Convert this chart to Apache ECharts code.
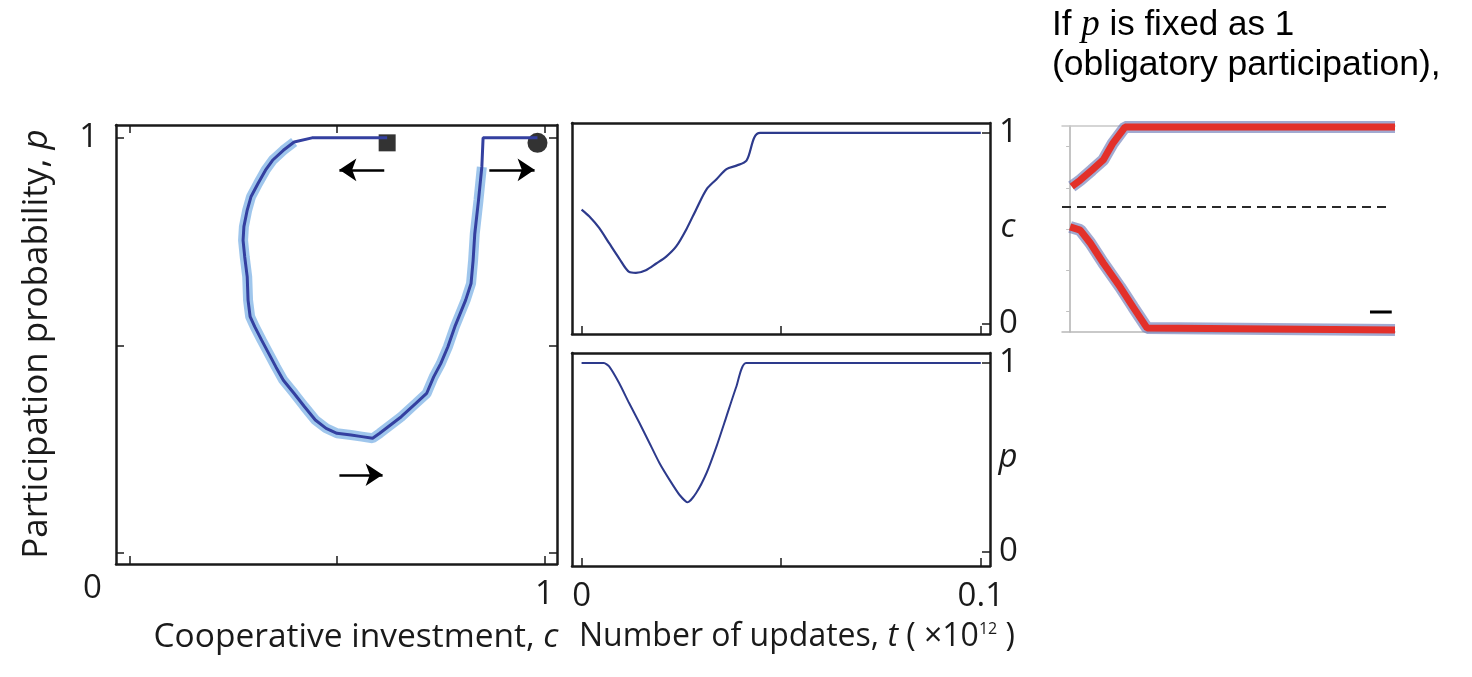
<!DOCTYPE html>
<html>
<head>
<meta charset="utf-8">
<script src="https://cdn.jsdelivr.net/npm/echarts@6/dist/echarts.min.js"></script>
<style>
  html, body { margin: 0; padding: 0; background: #fff; }
  #chart { width: 1472px; height: 677px; }
</style>
</head>
<body>
<div id="chart"></div>
<script>
// trajectory in the (c, p) plane, from the square to the circle
let pathC = [0.621, 0.44, 0.397, 0.371, 0.345, 0.328, 0.31, 0.293, 0.284, 0.276, 0.274, 0.278, 0.284, 0.286, 0.291, 0.302, 0.319, 0.336, 0.353, 0.371, 0.397, 0.422, 0.448, 0.474, 0.5, 0.534, 0.56, 0.586, 0.603, 0.629, 0.655, 0.69, 0.716, 0.733, 0.75, 0.767, 0.784, 0.81, 0.823, 0.828, 0.832, 0.841, 0.849, 0.852, 0.983];
let pathP = [1, 1, 0.99, 0.97, 0.946, 0.922, 0.89, 0.858, 0.826, 0.786, 0.753, 0.713, 0.665, 0.609, 0.569, 0.545, 0.512, 0.48, 0.448, 0.416, 0.384, 0.352, 0.32, 0.3, 0.288, 0.284, 0.28, 0.276, 0.288, 0.308, 0.328, 0.36, 0.384, 0.424, 0.456, 0.496, 0.545, 0.609, 0.649, 0.705, 0.769, 0.85, 0.93, 1, 1];

// c(t) and p(t), t in units of 10^12 updates
let tC = [0, 0.0019, 0.0044, 0.0069, 0.0094, 0.0119, 0.0136, 0.0161, 0.0187, 0.0212, 0.0237, 0.0262, 0.0287, 0.0313, 0.0338, 0.0363, 0.0388, 0.0413, 0.0447, 0.1];
let cVals = [0.599, 0.564, 0.503, 0.423, 0.344, 0.273, 0.268, 0.282, 0.317, 0.353, 0.406, 0.494, 0.6, 0.705, 0.758, 0.811, 0.829, 0.855, 1, 1];
let tP = [0, 0.0056, 0.0069, 0.0094, 0.0119, 0.0145, 0.017, 0.0195, 0.022, 0.0245, 0.0266, 0.0287, 0.0313, 0.0338, 0.0363, 0.0388, 0.0412, 0.1];
let pVals = [1, 1, 0.982, 0.894, 0.788, 0.683, 0.577, 0.471, 0.383, 0.303, 0.263, 0.312, 0.418, 0.559, 0.718, 0.877, 1, 1];

// inset (p fixed as 1), normalised time and value
let insetTopX = [0.005, 0.031, 0.067, 0.102, 0.132, 0.169, 1.0];
let insetTopY = [0.706, 0.737, 0.786, 0.835, 0.917, 0.995, 0.995];
let insetBotX = [0, 0.031, 0.062, 0.102, 0.154, 0.194, 0.237, 1.0];
let insetBotY = [0.51, 0.495, 0.432, 0.335, 0.218, 0.121, 0.019, 0.01];
let insetDivider = 0.607;

// start / end markers and arrows in the (c, p) plane
let squarePt = [0.621, 0.988];
let circlePt = [0.983, 0.988];
let arrows = [
  [[0.614, 0.923], [0.506, 0.923]],
  [[0.867, 0.923], [0.976, 0.923]],
  [[0.506, 0.188], [0.61, 0.188]]
];

let font = "Open Sans";
let black = "#1a1a1a";

function pairs(xs, ys) {
  return xs.map((x, i) => [x, ys[i]]);
}

let chart = echarts.init(document.getElementById("chart"));

let boxLine = { show: true, onZero: false, lineStyle: { color: black, width: 2.5 } };
let tickIn = function (vals) {
  return { show: true, inside: true, length: 8, customValues: vals, lineStyle: { color: black, width: 1.5 } };
};
let labelAt = function (vals, margin) {
  return {
    show: true, customValues: vals, margin: margin, fontSize: 33, fontFamily: font, color: black,
    formatter: v => String(+v.toFixed(2))
  };
};
let hidden = { show: false };

let loopPts = pairs(pathC, pathP).slice(2, pathC.length - 2);

chart.setOption({
  animation: false,
  grid: [
    { left: 116, top: 125, width: 441, height: 439 },
    { left: 572, top: 123, width: 418, height: 211 },
    { left: 572, top: 353, width: 418, height: 213 },
    { left: 1062, top: 126, width: 333, height: 206 }
  ],
  xAxis: [
    { gridIndex: 0, type: "value", min: -0.032, max: 1.03, axisLine: boxLine, axisTick: tickIn([0, 0.5, 1]), axisLabel: labelAt([1], 14), splitLine: hidden },
    { gridIndex: 0, type: "value", position: "top", min: -0.032, max: 1.03, axisLine: boxLine, axisTick: tickIn([0, 0.5, 1]), axisLabel: hidden, splitLine: hidden },
    { gridIndex: 1, type: "value", min: -0.0024, max: 0.1023, axisLine: boxLine, axisTick: tickIn([0, 0.05, 0.1]), axisLabel: hidden, splitLine: hidden },
    { gridIndex: 1, type: "value", position: "top", min: -0.0024, max: 0.1023, axisLine: boxLine, axisTick: hidden, axisLabel: hidden, splitLine: hidden },
    { gridIndex: 2, type: "value", min: -0.0024, max: 0.1023, axisLine: boxLine, axisTick: tickIn([0, 0.05, 0.1]), axisLabel: labelAt([0, 0.1], 14), splitLine: hidden },
    { gridIndex: 2, type: "value", position: "top", min: -0.0024, max: 0.1023, axisLine: boxLine, axisTick: hidden, axisLabel: hidden, splitLine: hidden },
    { gridIndex: 3, type: "value", min: -0.025, max: 1, axisLine: { show: true, onZero: false, lineStyle: { color: "#b8b8b8", width: 1.5 } }, axisTick: { show: true, inside: true, length: 4, customValues: [0.55, 0.9], lineStyle: { color: "#d0d0d0" } }, axisLabel: hidden, splitLine: hidden },
    { gridIndex: 3, type: "value", position: "top", min: -0.025, max: 1, axisLine: { show: true, onZero: false, lineStyle: { color: "#c8c8c8", width: 1.5 } }, axisTick: hidden, axisLabel: hidden, splitLine: hidden }
  ],
  yAxis: [
    { gridIndex: 0, type: "value", min: -0.027, max: 1.031, axisLine: boxLine, axisTick: tickIn([0, 0.5, 1]), axisLabel: labelAt([1], 18), splitLine: hidden },
    { gridIndex: 0, type: "value", position: "right", min: -0.027, max: 1.031, axisLine: boxLine, axisTick: tickIn([0, 0.5, 1]), axisLabel: hidden, splitLine: hidden },
    { gridIndex: 1, type: "value", min: -0.052, max: 1.052, axisLine: boxLine, axisTick: hidden, axisLabel: hidden, splitLine: hidden },
    { gridIndex: 1, type: "value", position: "right", min: -0.052, max: 1.052, axisLine: boxLine, axisTick: tickIn([0, 1]), axisLabel: labelAt([0, 1], 9), splitLine: hidden },
    { gridIndex: 2, type: "value", min: -0.074, max: 1.053, axisLine: boxLine, axisTick: hidden, axisLabel: hidden, splitLine: hidden },
    { gridIndex: 2, type: "value", position: "right", min: -0.074, max: 1.053, axisLine: boxLine, axisTick: tickIn([0, 1]), axisLabel: labelAt([0, 1], 9), splitLine: hidden },
    { gridIndex: 3, type: "value", min: 0, max: 1, axisLine: { show: true, onZero: true, lineStyle: { color: "#b0b0b0", width: 1.5 } }, axisTick: { show: true, inside: false, length: 4, customValues: [0.1, 0.3, 0.5, 0.7, 0.9], lineStyle: { color: "#c0c0c0" } }, axisLabel: hidden, splitLine: hidden }
  ],
  series: [
    // left panel: light halo, then the trajectory
    { type: "line", xAxisIndex: 0, yAxisIndex: 0, data: loopPts, showSymbol: false,
      lineStyle: { color: "#95c0ea", width: 10, opacity: 0.9 } },
    { type: "line", xAxisIndex: 0, yAxisIndex: 0, data: pairs(pathC, pathP), showSymbol: false,
      lineStyle: { color: "#3440a0", width: 3 } },
    { type: "scatter", xAxisIndex: 0, yAxisIndex: 0, data: [squarePt], symbol: "rect", symbolSize: 17,
      itemStyle: { color: "#000" } },
    { type: "scatter", xAxisIndex: 0, yAxisIndex: 0, data: [circlePt], symbol: "circle", symbolSize: 20,
      itemStyle: { color: "#000" } },
    { type: "lines", coordinateSystem: "cartesian2d", xAxisIndex: 0, yAxisIndex: 0,
      data: arrows.map(a => ({ coords: a })), symbol: ["none", "arrow"], symbolSize: 17,
      lineStyle: { color: "#000", width: 2.5, opacity: 1 } },
    // middle panels
    { type: "line", xAxisIndex: 2, yAxisIndex: 2, data: pairs(tC, cVals), showSymbol: false, smooth: 0.3,
      lineStyle: { color: "#2d3a8c", width: 2.2 } },
    { type: "line", xAxisIndex: 4, yAxisIndex: 4, data: pairs(tP, pVals), showSymbol: false, smooth: 0.2,
      lineStyle: { color: "#2d3a8c", width: 2 } },
    // inset
    { type: "line", xAxisIndex: 6, yAxisIndex: 6, data: [[-0.025, insetDivider], [0.99, insetDivider]], showSymbol: false,
      lineStyle: { color: "#2a2a2a", width: 2, type: [9, 6] } },
    { type: "line", xAxisIndex: 6, yAxisIndex: 6, data: pairs(insetTopX, insetTopY), showSymbol: false,
      lineStyle: { color: "#6f7db9", width: 12, opacity: 0.65 } },
    { type: "line", xAxisIndex: 6, yAxisIndex: 6, data: pairs(insetBotX, insetBotY), showSymbol: false,
      lineStyle: { color: "#6f7db9", width: 12, opacity: 0.65 } },
    { type: "line", xAxisIndex: 6, yAxisIndex: 6, data: pairs(insetTopX, insetTopY), showSymbol: false,
      lineStyle: { color: "#e3302a", width: 7 } },
    { type: "line", xAxisIndex: 6, yAxisIndex: 6, data: pairs(insetBotX, insetBotY), showSymbol: false,
      lineStyle: { color: "#e3302a", width: 7 } },
    { type: "line", xAxisIndex: 6, yAxisIndex: 6, data: [[0.923, 0.097], [0.99, 0.097]], showSymbol: false,
      lineStyle: { color: "#000", width: 3 } }
  ],
  graphic: [
    { type: "text", left: 83, top: 572, style: { text: "0", fontSize: 33, fontFamily: font, fill: black } },
    { type: "text", x: 37, y: 344, rotation: Math.PI / 2, style: {
        text: "Participation probability, {i|p}", fontSize: 35, fontFamily: font, fill: black,
        align: "center", verticalAlign: "middle",
        rich: { i: { fontSize: 35, fontFamily: font, fontStyle: "italic", fill: black } } } },
    { type: "text", x: 356, y: 637, style: {
        text: "Cooperative investment, {i|c}", fontSize: 33.5, fontFamily: font, fill: black,
        align: "center", verticalAlign: "middle",
        rich: { i: { fontSize: 33.5, fontFamily: font, fontStyle: "italic", fill: black } } } },
    { type: "text", x: 579, y: 637, style: {
        text: "Number of updates, {i|t} ( ×10{s|12} )", fontSize: 32, fontFamily: font, fill: black,
        align: "left", verticalAlign: "middle",
        rich: { i: { fontSize: 32, fontFamily: font, fontStyle: "italic", fill: black },
                s: { fontSize: 16, fontFamily: font, fill: black, padding: [0, 0, 16, 0] } } } },
    { type: "text", x: 1008, y: 228, style: { text: "c", fontSize: 33, fontFamily: font, fontStyle: "italic", fill: black, align: "center", verticalAlign: "middle" } },
    { type: "text", x: 1008, y: 458, style: { text: "p", fontSize: 33, fontFamily: font, fontStyle: "italic", fill: black, align: "center", verticalAlign: "middle" } },
    { type: "text", x: 1052, y: 25, style: {
        text: "If {p|p} is fixed as 1", fontSize: 35, fontFamily: "Liberation Sans", fill: "#000",
        align: "left", verticalAlign: "middle",
        rich: { p: { fontSize: 37, fontFamily: "Liberation Serif", fontStyle: "italic", fill: "#000" } } } },
    { type: "text", x: 1052, y: 65, style: {
        text: "(obligatory participation),", fontSize: 35.5, fontFamily: "Liberation Sans", fill: "#000",
        align: "left", verticalAlign: "middle" } }
  ]
});
</script>
</body>
</html>
